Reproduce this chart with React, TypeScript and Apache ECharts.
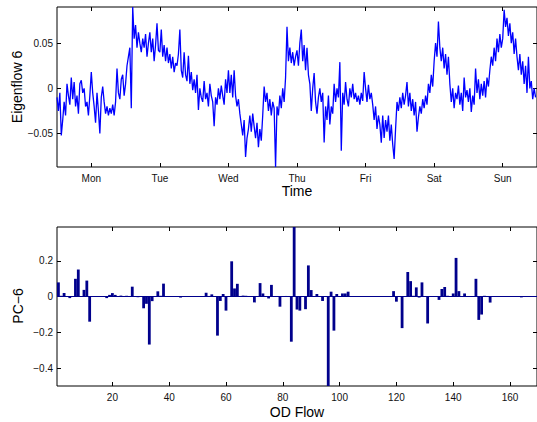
import React, { useEffect, useRef } from "react";
import * as echarts from "echarts";

// ---- Data ----
const samplesPerDay = 48;
const dayLabels = ["Mon", "Tue", "Wed", "Thu", "Fri", "Sat", "Sun"];
const dayTickValues = [0.5, 1.5, 2.5, 3.5, 4.5, 5.5, 6.5];
const topYTicks = [-0.05, 0, 0.05];
const bottomXTicks = [20, 40, 60, 80, 100, 120, 140, 160];
const bottomYTicks = [-0.4, -0.2, 0, 0.2];

// Eigenflow 6 values (x1000), one per half hour over the week
const eigenflow6x1000 = [
  -10, -25, -5, -52, -35, -15, -30, 5, -8, -18, 12, -12,
  7, -20, -8, -28, 5, 9, -5, 0, -20, -15, -30, -8,
  18, -5, -20, -38, -5, -25, -50, -10, 2, -15, -28, -20,
  -30, -22, -28, -18, -30, -15, 22, -5, -12, 10, 15, -8,
  5, 25, 35, 45, -22, 90, 55, 70, 45, 62, 50, 40,
  55, 45, 60, 35, 50, 62, 40, 55, 30, 48, 72, 42,
  40, 65, 35, 48, 30, 45, 28, 38, 22, 35, 18, 28,
  25, 38, 65, 20, 12, 40, 15, 8, 36, 5, 18, -2,
  10, -5, 15, -24, 0, -10, -15, 8, -12, -5, -20, 5,
  -8, -15, -42, -10, -18, 0, -12, 3, -8, -18, 10, -5,
  20, -5, 15, -10, 20, -8, -20, -12, -28, -40, -52, -35,
  -76, -55, -45, -30, -48, -28, -42, -55, -38, -65, -45, -58,
  -30, 2, -15, -5, -25, -12, -30, -15, -22, -87, -20, -30,
  -8, -22, 0, -15, 12, 68, 30, 45, 28, 40, 25, 35,
  42, 25, 50, 65, 30, 48, 20, 45, 15, 5, -25, 0,
  17, -15, -28, -10, 0, -15, -5, -60, -20, -35, -8, -40,
  -20, -28, 5, -15, 0, -10, 29, -69, -5, -18, 7, -12,
  -20, 0, -10, 5, -12, -5, -15, -8, -18, -5, -14, 18,
  0, -15, 4, -12, -5, -18, -35, -20, -45, -30, -40, -60,
  -30, -55, -35, -48, -30, -58, -40, -62, -78, -45, -15, -25,
  -10, -22, -5, -18, -8, 7, -20, -5, -25, -12, -30, -15,
  -48, -32, -20, -28, -12, -22, -8, -18, 5, -5, 15, 2,
  30, 50, 35, 74, 45, 30, 45, 22, 38, 15, 35, 5,
  -15, 0, -22, -5, -12, 3, -18, -5, -25, 12, -10, -2,
  -15, 0, -26, -8, -18, 22, -5, 10, -12, 5, -8, 8,
  -10, 12, 2, 20, 35, 25, 45, 30, 55, 40, 60, 45,
  55, 87, 68, 78, 58, 72, 50, 62, 38, 55, 35, 20,
  38, 15, 30, 5, 25, -5, 35, 0, 8, -12, 0, -10,
];

// PC-6 loadings for OD flows 1..169
const pc6 = [
  0.080, 0.005, 0.020, 0.003, -0.008, 0.002, 0.100, 0.152, 0.003, 0.038,
  0.090, -0.140, 0.002, 0.001, 0.003, 0.002, 0.001, -0.008, 0.010, 0.020,
  0.010, 0.003, 0.006, 0.002, 0.005, 0.002, 0.056, 0.002, -0.003, 0.001,
  -0.065, -0.040, -0.268, -0.025, 0.003, 0.030, 0.005, 0.073, 0.003, 0.001,
  0.002, 0.001, 0.002, -0.005, 0.002, 0.001, 0.002, 0.001, 0.002, 0.001,
  0.002, 0.003, 0.022, 0.004, 0.013, 0.002, -0.218, -0.024, 0.015, -0.078,
  0.003, 0.198, 0.046, 0.072, 0.004, 0.006, 0.005, 0.003, 0.002, -0.032,
  0.002, 0.076, 0.018, 0.003, -0.010, 0.066, 0.002, 0.003, -0.056, 0.002,
  0.004, 0.002, -0.252, 0.390, -0.072, -0.078, 0.002, -0.070, 0.175, 0.037,
  0.003, 0.015, 0.002, -0.024, 0.002, -0.500, 0.028, -0.190, 0.015, 0.002,
  0.018, 0.018, 0.028, 0.001, 0.002, 0.001, 0.002, 0.001, 0.002, 0.001,
  0.002, 0.001, 0.002, 0.001, 0.002, 0.001, 0.002, 0.001, 0.031, -0.028,
  0.002, -0.176, 0.003, 0.138, 0.087, 0.005, 0.052, -0.005, 0.080, 0.003,
  -0.150, 0.002, 0.003, 0.002, -0.018, 0.043, 0.054, 0.005, 0.003, 0.018,
  0.217, 0.031, 0.003, 0.018, 0.002, 0.001, 0.003, 0.100, -0.130, -0.100,
  0.005, 0.002, -0.033, 0.001, 0.001, 0.001, 0.001, 0.001, 0.001, 0.001,
  0.001, 0.001, 0.001, -0.004, 0.001, 0.001, 0.001, 0.001, 0.001,
];

const FONT = "'Liberation Sans', Arial, Helvetica, sans-serif";
const LABEL_COLOR = "#111";

function fmtNum(v: number): string {
  if (Math.abs(v) < 1e-12) return "0";
  const s = String(Math.abs(Number(v.toFixed(4))));
  return (v < 0 ? "\u2212" : "") + s;
}

export default function App() {
  const ref = useRef<HTMLDivElement>(null);
  useEffect(() => {
    if (!ref.current) return;
    const chart = echarts.init(ref.current, undefined, { renderer: "svg" });

    const tickStyle = { inside: true, length: 4, lineStyle: { color: "#000", width: 1 } };
    const labelStyle = { fontSize: 10, color: LABEL_COLOR, fontFamily: FONT };
    const noLine = { show: false, onZero: false };

    const lineData = eigenflow6x1000.map((v, i) => [i / samplesPerDay, v / 1000]);
    const barData = pc6.map((v, i) => [i + 1, v]);

    const option: any = {
      animation: false,
      grid: [
        { left: 57, top: 7, width: 480, height: 160, show: true, borderColor: "#000", borderWidth: 1, backgroundColor: "transparent" },
        { left: 57, top: 227, width: 480, height: 159, show: true, borderColor: "#000", borderWidth: 1, backgroundColor: "transparent" },
      ],
      xAxis: [
        {
          gridIndex: 0, type: "value", position: "bottom", min: 0, max: 7,
          axisLine: noLine, splitLine: { show: false },
          axisTick: { ...tickStyle, customValues: dayTickValues },
          axisLabel: {
            ...labelStyle, margin: 6, customValues: dayTickValues,
            formatter: (v: number) => dayLabels[Math.round(v - 0.5)] ?? "",
          },
        },
        {
          gridIndex: 0, type: "value", position: "top", min: 0, max: 7,
          axisLine: noLine, splitLine: { show: false },
          axisTick: { ...tickStyle, customValues: dayTickValues },
          axisLabel: { show: false },
        },
        {
          gridIndex: 1, type: "value", position: "bottom", min: 0.5, max: 169.5,
          axisLine: noLine, splitLine: { show: false },
          axisTick: { ...tickStyle, customValues: bottomXTicks },
          axisLabel: { ...labelStyle, margin: 6, customValues: bottomXTicks, formatter: (v: number) => String(v) },
        },
        {
          gridIndex: 1, type: "value", position: "top", min: 0.5, max: 169.5,
          axisLine: noLine, splitLine: { show: false },
          axisTick: { ...tickStyle, customValues: bottomXTicks },
          axisLabel: { show: false },
        },
      ],
      yAxis: [
        {
          gridIndex: 0, type: "value", position: "left", min: -0.087, max: 0.09,
          axisLine: noLine, splitLine: { show: false },
          axisTick: { ...tickStyle, customValues: topYTicks },
          axisLabel: { ...labelStyle, margin: 4, customValues: topYTicks, formatter: fmtNum },
        },
        {
          gridIndex: 0, type: "value", position: "right", min: -0.087, max: 0.09,
          axisLine: noLine, splitLine: { show: false },
          axisTick: { ...tickStyle, customValues: topYTicks },
          axisLabel: { show: false },
        },
        {
          gridIndex: 1, type: "value", position: "left", min: -0.5, max: 0.39,
          axisLine: noLine, splitLine: { show: false },
          axisTick: { ...tickStyle, customValues: bottomYTicks },
          axisLabel: { ...labelStyle, margin: 4, customValues: bottomYTicks, formatter: fmtNum },
        },
        {
          gridIndex: 1, type: "value", position: "right", min: -0.5, max: 0.39,
          axisLine: noLine, splitLine: { show: false },
          axisTick: { ...tickStyle, customValues: bottomYTicks },
          axisLabel: { show: false },
        },
      ],
      series: [
        {
          type: "line", xAxisIndex: 0, yAxisIndex: 0, data: lineData,
          showSymbol: false, symbol: "none", clip: true,
          lineStyle: { color: "#0000FF", width: 1.3 },
        },
        {
          type: "bar", xAxisIndex: 2, yAxisIndex: 2, data: barData,
          barWidth: 2.8, itemStyle: { color: "#00008C" },
          markLine: {
            silent: true, symbol: ["none", "none"],
            label: { show: false },
            lineStyle: { color: "#00008C", width: 1.2, type: "solid" },
            data: [{ yAxis: 0 }],
          },
        },
      ],
      graphic: [
        { type: "text", x: 17, y: 87, rotation: Math.PI / 2, style: { text: "Eigenflow 6", font: `14px ${FONT}`, fill: "#000", align: "center", verticalAlign: "middle" } },
        { type: "text", x: 297, y: 191, style: { text: "Time", font: `14px ${FONT}`, fill: "#000", align: "center", verticalAlign: "middle" } },
        { type: "text", x: 18, y: 306, rotation: Math.PI / 2, style: { text: "PC\u22126", font: `14px ${FONT}`, fill: "#000", align: "center", verticalAlign: "middle" } },
        { type: "text", x: 297, y: 412, style: { text: "OD Flow", font: `14px ${FONT}`, fill: "#000", align: "center", verticalAlign: "middle" } },
      ],
    };
    chart.setOption(option);
    return () => chart.dispose();
  }, []);
  return (
    <div
      ref={ref}
      style={{ position: "fixed", left: 0, top: 0, width: 537, height: 422, background: "#fff" }}
    />
  );
}
